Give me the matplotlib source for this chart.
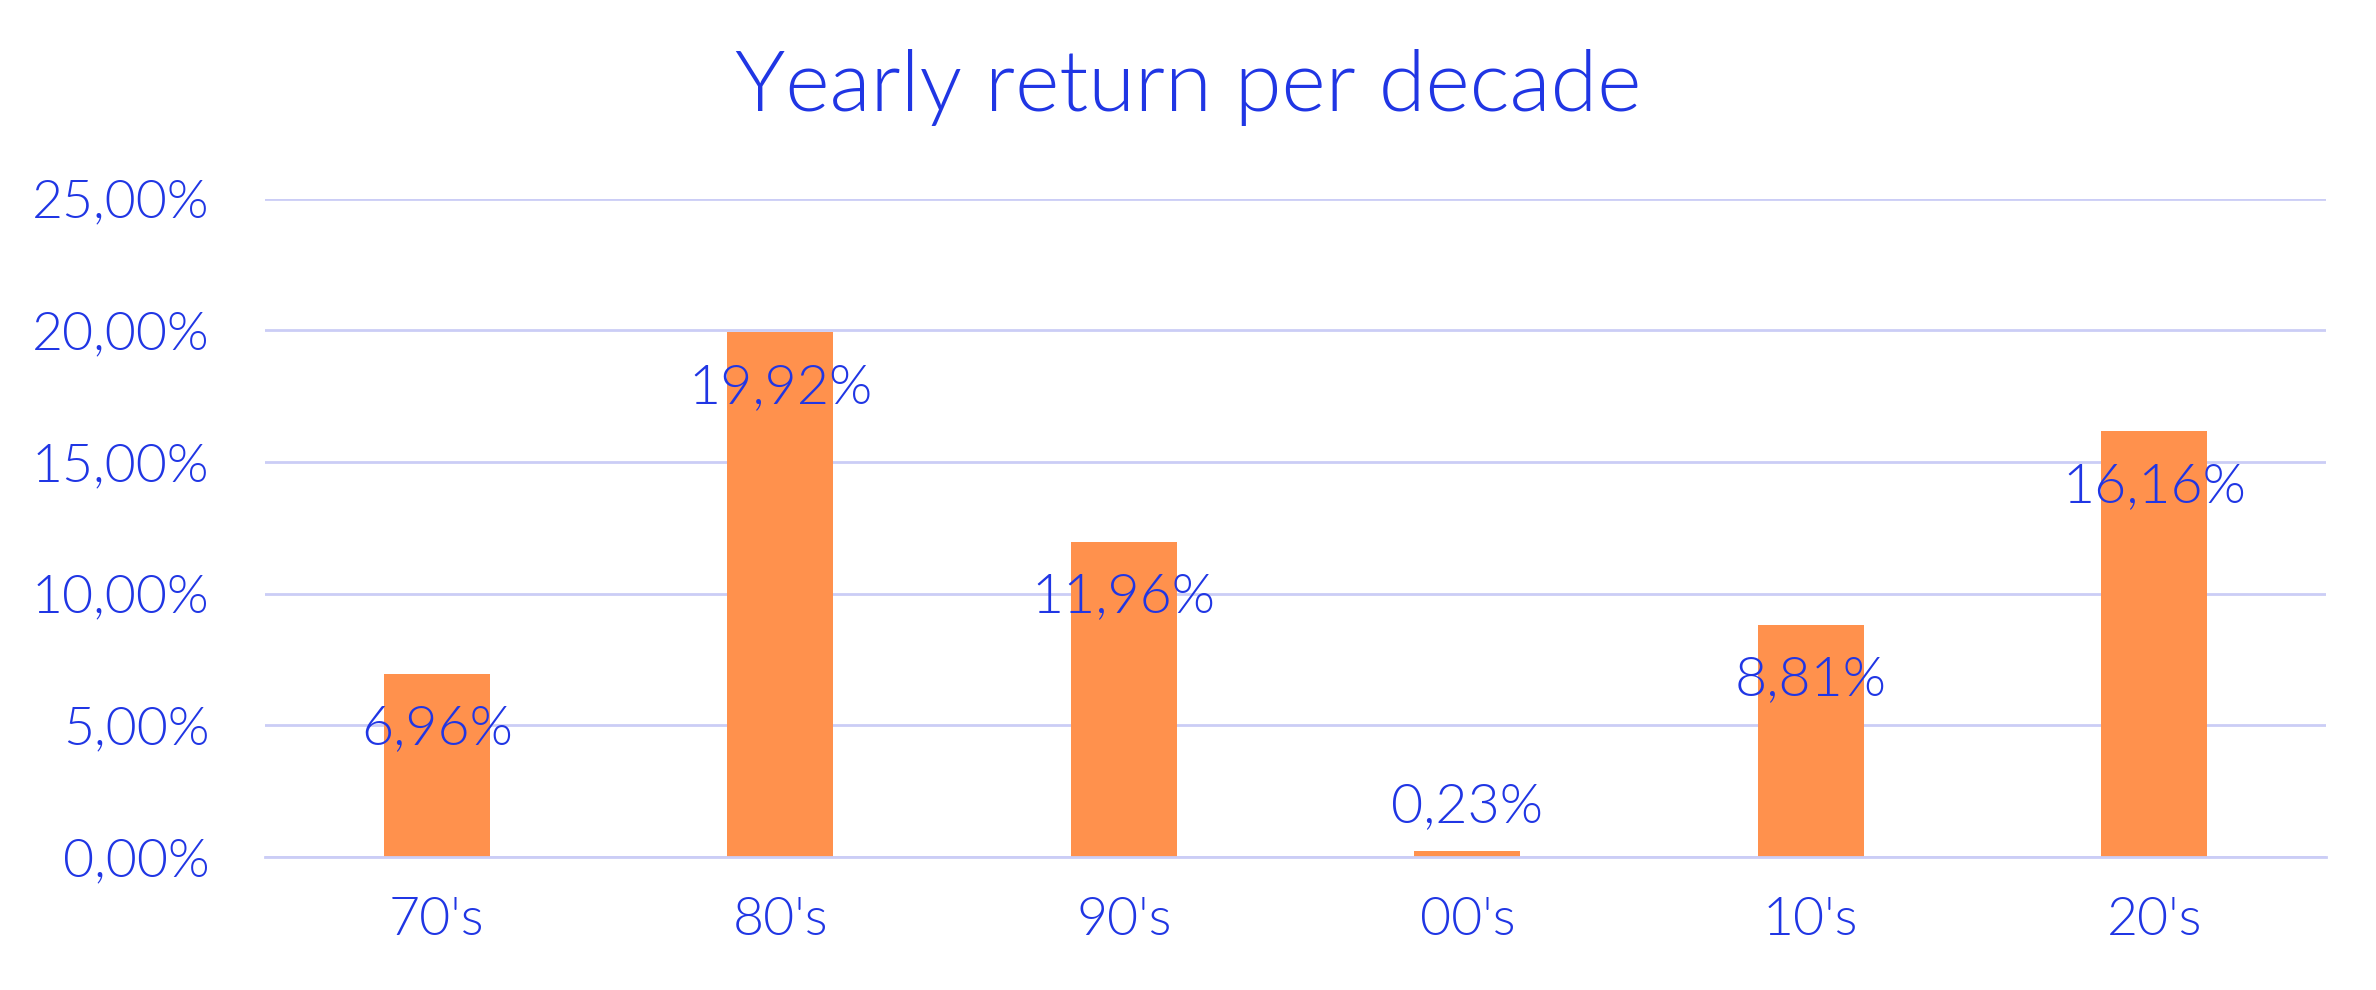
import matplotlib
matplotlib.use("Agg")
import matplotlib.pyplot as plt
import numpy as np

# data
decades = ["70's", "80's", "90's", "00's", "10's", "20's"]
returns = [6.96, 19.92, 11.96, 0.23, 8.81, 16.16]
yticks = [0, 5, 10, 15, 20, 25]

blue = "#2036E4"
orange = "#FF914D"
grid = "#CBCDF6"

plt.rcParams["font.family"] = ["Lato", "DejaVu Sans"]
plt.rcParams["font.weight"] = 300

fig = plt.figure(figsize=(23.76, 9.9), dpi=100)
ax = fig.add_axes([265 / 2376, 1 - 857 / 990, (2326 - 265) / 2376, (857 - 198.5) / 990])

x = np.arange(len(decades))
ax.bar(x, returns, width=0.31, color=orange, zorder=2)

ax.set_xlim(-0.5, len(decades) - 0.5)
ax.set_ylim(0, 25)
ax.set_yticks(yticks)
ax.set_yticklabels(["{:.2f}%".format(v).replace(".", ",") for v in yticks])
ax.set_xticks(x)
ax.set_xticklabels(decades)
ax.grid(axis="y", color=grid, linewidth=2.0, zorder=1)
# the baseline sits over the bars
ax.axhline(0, color=grid, linewidth=2.0, zorder=2.5, clip_on=False)
ax.tick_params(length=0, labelsize=38.5, labelcolor=blue)
ax.tick_params(axis="y", pad=40)
ax.tick_params(axis="x", pad=29)
for s in ax.spines.values():
    s.set_visible(False)
ax.set_axisbelow(True)

# value labels just inside the bar top, or above it when the bar is too short
for xi, v in zip(x, returns):
    y = v + 1.67 if v < 1 else v - 2.1
    ax.text(xi, y, "{:.2f}%".format(v).replace(".", ","), ha="center", va="center",
            fontsize=40, color=blue, zorder=3)

fig.text(0.5, 1 - 88 / 990, "Yearly return per decade", ha="center", va="center",
         fontsize=61, color=blue)

fig.savefig("out.png", dpi=100)
